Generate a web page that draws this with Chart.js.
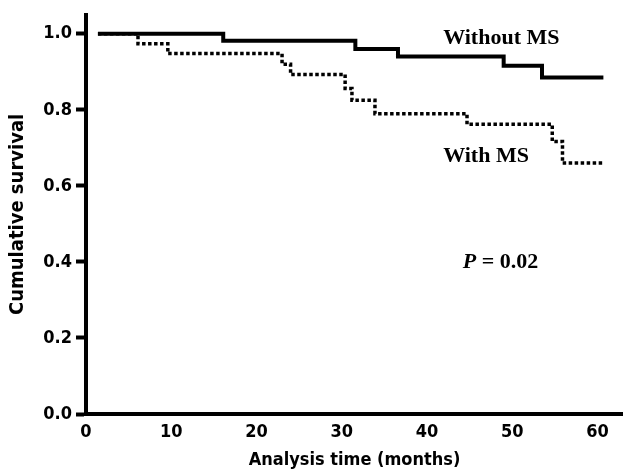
<!DOCTYPE html>
<html>
<head>
<meta charset="utf-8">
<script src="https://cdn.jsdelivr.net/npm/chart.js@4/dist/chart.umd.min.js"></script>
<style>
html,body{margin:0;padding:0;background:#fff;}
#wrap{width:623px;height:473px;}
</style>
</head>
<body>
<div id="wrap"><canvas id="c" width="623" height="473"></canvas></div>
<script>
// Kaplan-Meier step data (time in months, cumulative survival)
const withoutMsTimes = [1.4, 16.1, 31.6, 36.6, 49.0, 53.5, 60.7];
const withoutMsSurv  = [1.0, 0.982, 0.960, 0.940, 0.916, 0.885, 0.885];
const withMsTimes = [1.4, 6.1, 9.6, 23.0, 24.0, 30.4, 31.2, 33.9, 44.7, 54.7, 55.9, 60.7];
const withMsSurv  = [1.0, 0.974, 0.948, 0.920, 0.893, 0.856, 0.825, 0.790, 0.762, 0.717, 0.660, 0.660];
const yTickValues = [0, 0.2, 0.4, 0.6, 0.8, 1.0];
const xTickValues = [0, 10, 20, 30, 40, 50, 60];
const seriesNames = ['Without MS', 'With MS'];
const pValueText = '= 0.02';

const toPts = (xs, ys) => xs.map((x, i) => ({x: x, y: ys[i]}));

const textNotes = [
  {x: 41.9, y: 0.987, text: seriesNames[0]},
  {x: 41.9, y: 0.678, text: seriesNames[1]},
];

const serif = '"Liberation Serif", "DejaVu Serif", serif';
const notesPlugin = {
  id: 'notes',
  afterDatasetsDraw(chart) {
    const {ctx, scales: {x, y}} = chart;
    ctx.save();
    ctx.fillStyle = '#000';
    ctx.textBaseline = 'middle';
    ctx.textAlign = 'left';
    ctx.font = 'bold 22px ' + serif;
    textNotes.forEach(n => {
      ctx.fillText(n.text, x.getPixelForValue(n.x), y.getPixelForValue(n.y));
    });
    const px = x.getPixelForValue(44.2), py = y.getPixelForValue(0.398);
    ctx.font = 'italic bold 22px ' + serif;
    ctx.fillText('P', px, py);
    const w = ctx.measureText('P').width;
    ctx.font = 'bold 22px ' + serif;
    ctx.fillText(' ' + pValueText, px + w, py);
    ctx.restore();
  }
};

const tickFont = {family: '"Liberation Sans Narrow", "DejaVu Sans Condensed", Arial, sans-serif', size: 18, weight: 'bold'};
const xTitleFont = {family: '"DejaVu Sans Condensed", "DejaVu Sans", sans-serif', size: 18, weight: 'bold'};
const yTitleFont = {family: '"DejaVu Sans Condensed", "DejaVu Sans", sans-serif', size: 20, weight: 'bold'};

new Chart(document.getElementById('c'), {
  type: 'line',
  data: {
    datasets: [
      {
        label: seriesNames[0],
        data: toPts(withoutMsTimes, withoutMsSurv),
        stepped: true,
        borderColor: '#000',
        borderWidth: 4,
        pointRadius: 0,
        fill: false
      },
      {
        label: seriesNames[1],
        data: toPts(withMsTimes, withMsSurv),
        stepped: true,
        borderColor: '#000',
        borderWidth: 3.5,
        borderDash: [3.5, 2.5],
        borderCapStyle: 'butt',
        pointRadius: 0,
        fill: false
      }
    ]
  },
  options: {
    responsive: false,
    animation: false,
    layout: {padding: {top: 13, right: 0, left: 0, bottom: 0}},
    plugins: {legend: {display: false}, tooltip: {enabled: false}},
    scales: {
      x: {
        type: 'linear',
        min: 0,
        max: 63,
        afterFit(s) { s.height = 59; },
        afterBuildTicks(s) { s.ticks = xTickValues.map(v => ({value: v})); },
        grid: {display: false, drawTicks: false},
        border: {display: true, color: '#000', width: 4},
        ticks: {color: '#000', font: tickFont, padding: 8, maxRotation: 0, autoSkip: false,
                callback: v => String(v)},
        title: {display: true, text: 'Analysis time (months)', color: '#000', font: xTitleFont,
                padding: {top: 0, bottom: 2}}
      },
      y: {
        type: 'linear',
        min: 0,
        max: 1.05,
        afterFit(s) { s.width = 86; },
        afterBuildTicks(s) { s.ticks = yTickValues.map(v => ({value: v})); },
        grid: {display: true, drawOnChartArea: false, drawTicks: true, tickLength: 10, tickWidth: 4, color: '#000'},
        border: {display: true, color: '#000', width: 4},
        ticks: {color: '#000', font: tickFont, padding: 4, autoSkip: false,
                callback: v => Number(v).toFixed(1)},
        title: {display: true, text: 'Cumulative survival', color: '#000', font: yTitleFont,
                padding: {top: 6, bottom: 0}}
      }
    }
  },
  plugins: [notesPlugin]
});
</script>
</body>
</html>
